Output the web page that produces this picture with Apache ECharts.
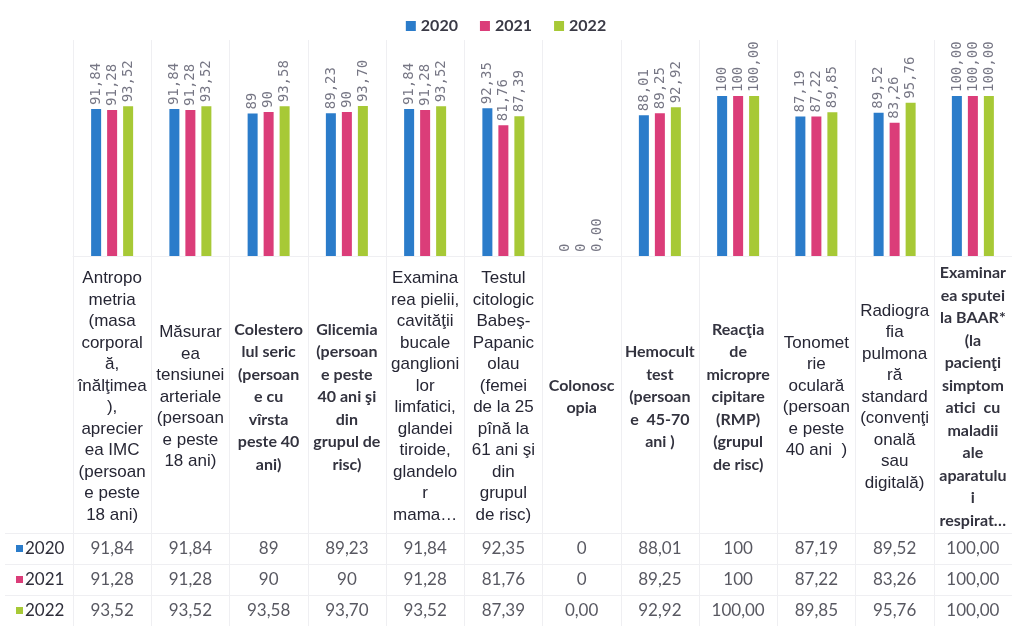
<!DOCTYPE html>
<html><head><meta charset="utf-8">
<script src="https://cdn.jsdelivr.net/npm/echarts@6/dist/echarts.min.js"></script>
<style>html,body{margin:0;padding:0;background:#fff}#c{width:1012px;height:626px}</style>
</head><body><div id="c"></div>
<script>
const categories = [
  "Antropo\nmetria\n(masa\ncorporal\nă,\nînălţimea\n),\naprecier\nea IMC\n(persoan\ne peste\n18 ani)",
  "Măsurar\nea\ntensiunei\narteriale\n(persoan\ne peste\n18 ani)",
  "Colestero\nlul seric\n(persoan\ne cu\nvîrsta\npeste 40\nani)",
  "Glicemia\n(persoan\ne peste\n40 ani şi\ndin\ngrupul de\nrisc)",
  "Examina\nrea pielii,\ncavităţii\nbucale\nganglioni\nlor\nlimfatici,\nglandei\ntiroide,\nglandelo\nr\nmama…",
  "Testul\ncitologic\nBabeş-\nPapanic\nolau\n(femei\nde la 25\npînă la\n61 ani şi\ndin\ngrupul\nde risc)",
  "Colonosc\nopia",
  "Hemocult\ntest\n(persoan\ne  45-70\nani )",
  "Reacţia\nde\nmicropre\ncipitare\n(RMP)\n(grupul\nde risc)",
  "Tonomet\nrie\noculară\n(persoan\ne peste\n40 ani  )",
  "Radiogra\nfia\npulmona\nră\nstandard\n(convenţi\nonală\nsau\ndigitală)",
  "Examinar\nea sputei\nla BAAR*\n(la\npacienţi\nsimptom\natici  cu\nmaladii\nale\naparatulu\ni\nrespirat…"
];
const years = ['2020', '2021', '2022'];
const values2020 = ['91,84','91,84','89','89,23','91,84','92,35','0','88,01','100','87,19','89,52','100,00'];
const values2021 = ['91,28','91,28','90','90','91,28','81,76','0','89,25','100','87,22','83,26','100,00'];
const values2022 = ['93,52','93,52','93,58','93,70','93,52','87,39','0,00','92,92','100,00','89,85','95,76','100,00'];

const rows = [values2020, values2021, values2022];
const colors = ['#2b7cca', '#db3d79', '#a7c936'];
const labelFont = ['a','a','c','c','a','a','c','c','c','a','a','c'];
const toNum = s => parseFloat(s.replace(',', '.'));
const lineColor = '#efeff2';

const chart = echarts.init(document.getElementById('c'), null, {renderer: 'canvas'});

const barSeries = years.map((y, si) => ({
  name: y,
  type: 'bar',
  xAxisIndex: 0, yAxisIndex: 0,
  barWidth: 10,
  barGap: '60%',
  itemStyle: {color: colors[si]},
  data: rows[si].map(toNum),
  label: {
    show: true,
    position: 'top',
    rotate: 90,
    align: 'left',
    verticalAlign: 'middle',
    distance: 4,
    fontFamily: 'DejaVu Sans Mono',
    fontSize: 14,
    color: '#767684',
    formatter: p => rows[si][p.dataIndex]
  }
}));

const tableData = [];
rows.forEach((r, ri) => r.forEach((v, ci) => tableData.push([ci, ri, v])));

const option = {
  animation: false,
  color: colors,
  legend: {
    data: years,
    top: 13,
    left: 'center',
    icon: 'rect',
    itemWidth: 10,
    itemHeight: 10,
    itemGap: 22,
    textStyle: {fontFamily: 'Lato', fontWeight: 'bold', fontSize: 16, color: '#3a3a46'}
  },
  grid: [
    {left: 73, right: 0, top: 40, height: 216},
    {left: 73, right: 0, top: 256, height: 277},
    {left: 73, right: 0, top: 533, height: 93}
  ],
  xAxis: [
    {
      type: 'category', gridIndex: 0, data: categories,
      axisLine: {show: true, lineStyle: {color: lineColor}},
      axisTick: {show: false},
      splitLine: {show: true, lineStyle: {color: lineColor}},
      axisLabel: {
        interval: 0,
        margin: 141,
        verticalAlign: 'middle',
        align: 'center',
        formatter: (v, i) => v.split('\n').map(l => '{' + labelFont[i] + '|' + l + '}').join('\n'),
        rich: {
          a: {fontFamily: 'Liberation Sans', fontSize: 17, lineHeight: 21.5, color: '#262634', align: 'center'},
          c: {fontFamily: 'Lato', fontWeight: 'bold', fontSize: 16, lineHeight: 22.5, color: '#33333f', align: 'center'}
        }
      }
    },
    {
      type: 'category', gridIndex: 1, data: categories,
      axisLine: {show: false}, axisTick: {show: false}, axisLabel: {show: false},
      splitLine: {show: true, lineStyle: {color: lineColor}}
    },
    {
      type: 'category', gridIndex: 2, data: categories,
      axisLine: {show: false}, axisTick: {show: false}, axisLabel: {show: false},
      splitLine: {show: true, lineStyle: {color: lineColor}}
    }
  ],
  yAxis: [
    {type: 'value', gridIndex: 0, min: 0, max: 135, show: false},
    {type: 'value', gridIndex: 1, show: false},
    {
      type: 'category', gridIndex: 2, data: years, inverse: true,
      axisLine: {show: false},
      axisTick: {show: true, length: 68, lineStyle: {color: lineColor}},
      splitLine: {show: true, lineStyle: {color: lineColor}},
      axisLabel: {
        margin: 57,
        align: 'left',
        formatter: (v, i) => '{s' + i + '|}{t|' + v + '}',
        rich: {
          s0: {width: 7, height: 7, backgroundColor: colors[0]},
          s1: {width: 7, height: 7, backgroundColor: colors[1]},
          s2: {width: 7, height: 7, backgroundColor: colors[2]},
          t: {fontFamily: 'Lato', fontSize: 17, color: '#2e2e3a', padding: [0, 0, 0, 2]}
        }
      }
    }
  ],
  series: barSeries.concat([{
    type: 'scatter',
    xAxisIndex: 2, yAxisIndex: 2,
    symbolSize: 1,
    silent: true,
    itemStyle: {color: 'rgba(0,0,0,0)'},
    data: tableData,
    label: {
      show: true,
      position: 'inside',
      fontFamily: 'Lato',
      fontSize: 17,
      color: '#2e2e3a',
      formatter: p => p.data[2]
    }
  }])
};
chart.setOption(option);
</script>
</body></html>
